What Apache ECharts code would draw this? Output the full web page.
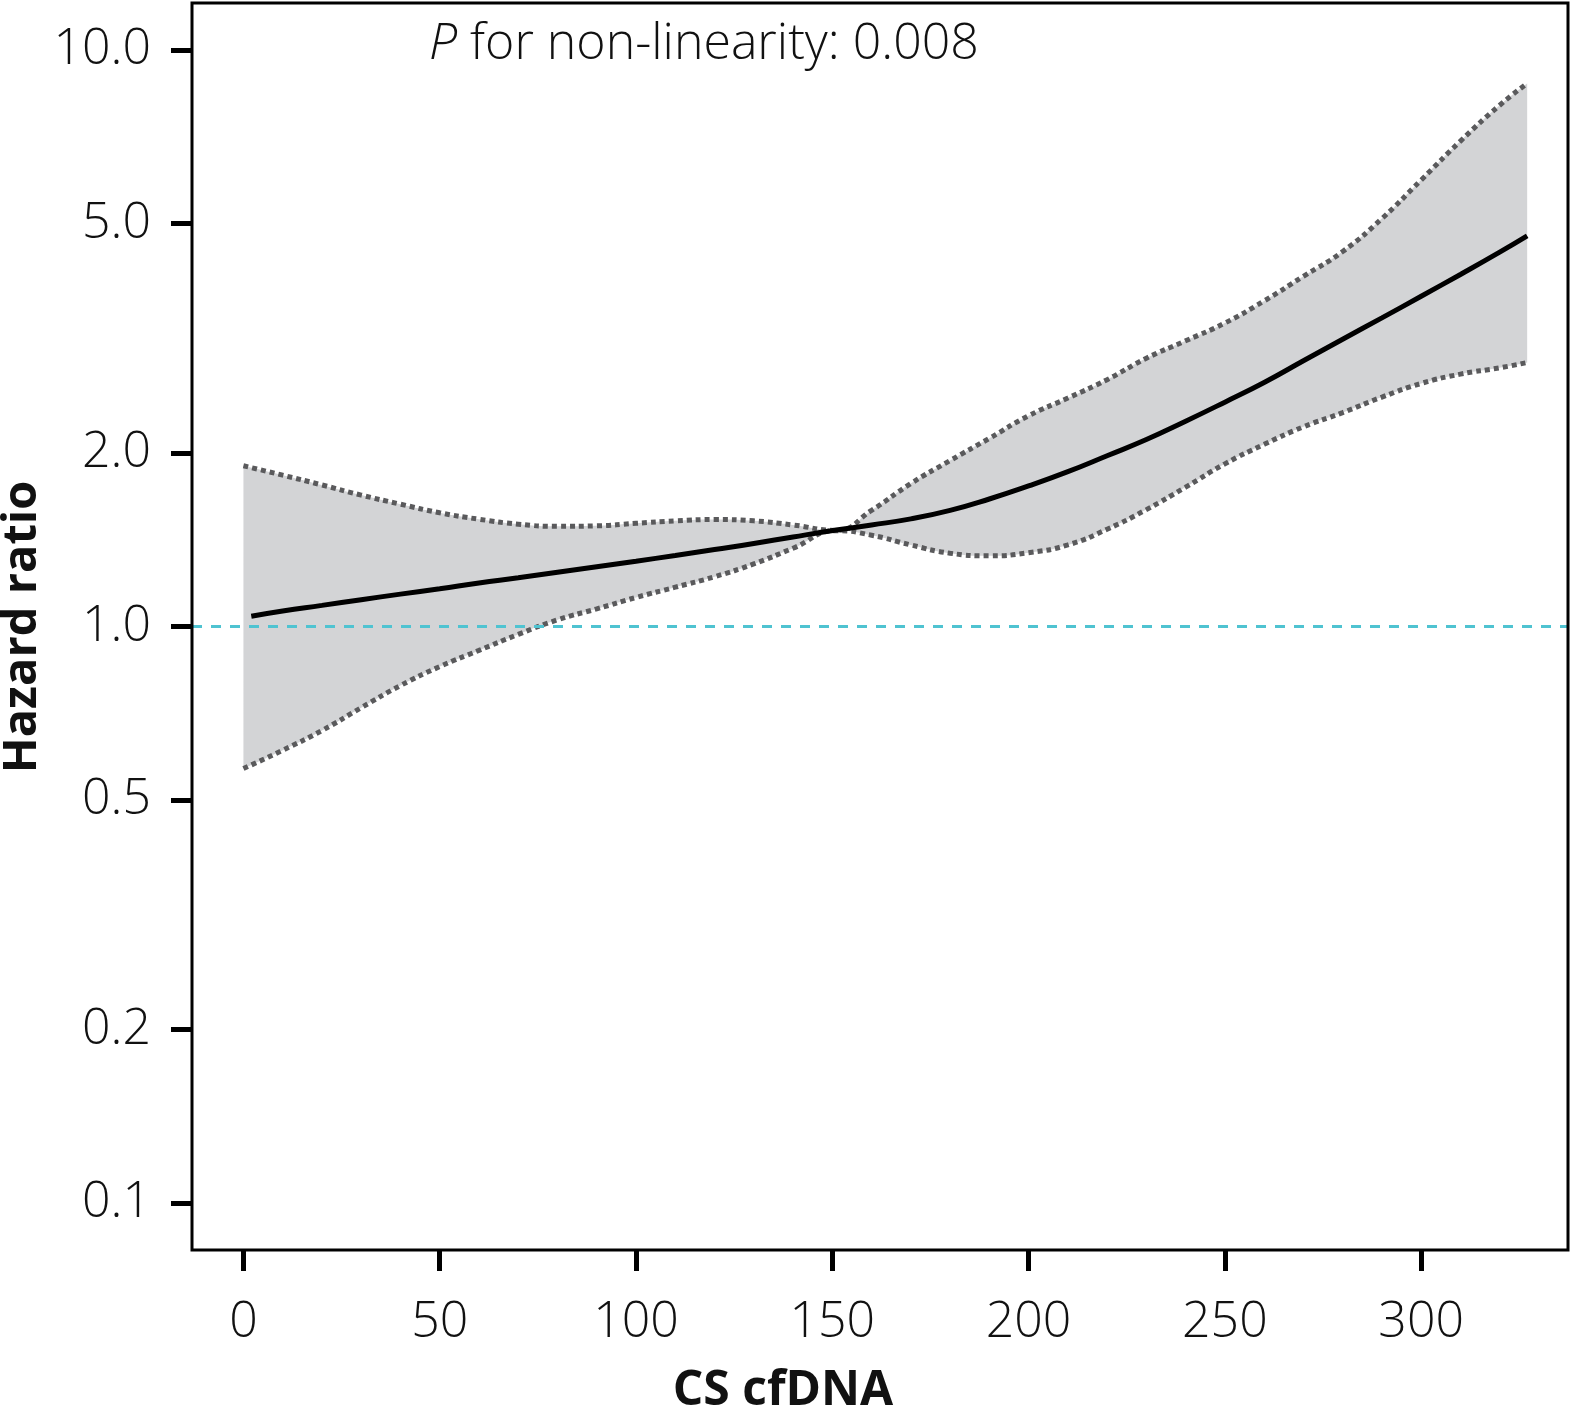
<!DOCTYPE html>
<html>
<head>
<meta charset="utf-8">
<script src="https://cdn.jsdelivr.net/npm/echarts@6/dist/echarts.min.js"></script>
<style>
html,body{margin:0;padding:0;background:#fff;}
#chart{width:1573px;height:1407px;}
</style>
</head>
<body>
<div id="chart"></div>
<script>
// CI band x positions (CS cfDNA)
const bandX = [0, 10, 20, 30, 40, 50, 60, 70, 80, 90, 100, 110, 120, 130, 140, 151, 160, 170, 180, 190, 200, 210, 220, 230, 240, 250, 260, 270, 280, 290, 300, 310, 320, 327];
// Upper 95% CI (hazard ratio)
const hrUpper = [1.90, 1.83, 1.76, 1.69, 1.63, 1.575, 1.535, 1.505, 1.492, 1.495, 1.51, 1.525, 1.533, 1.525, 1.50, 1.468, 1.59, 1.77, 1.94, 2.12, 2.32, 2.49, 2.68, 2.92, 3.13, 3.36, 3.67, 4.05, 4.47, 5.10, 5.95, 6.95, 8.02, 8.75];
// Lower 95% CI (hazard ratio)
const hrLower = [0.567, 0.61, 0.66, 0.723, 0.79, 0.852, 0.909, 0.969, 1.027, 1.073, 1.123, 1.17, 1.22, 1.284, 1.367, 1.466, 1.44, 1.385, 1.34, 1.326, 1.343, 1.385, 1.475, 1.595, 1.745, 1.915, 2.07, 2.22, 2.35, 2.50, 2.64, 2.74, 2.81, 2.87];
// Point estimate
const fitX = [2, 10, 20, 30, 40, 50, 60, 70, 80, 90, 100, 110, 120, 130, 140, 151, 160, 170, 180, 190, 200, 210, 220, 230, 240, 250, 260, 270, 280, 290, 300, 310, 320, 327];
const hrFit = [1.042, 1.064, 1.088, 1.113, 1.138, 1.163, 1.19, 1.215, 1.242, 1.27, 1.298, 1.328, 1.36, 1.393, 1.43, 1.47, 1.50, 1.537, 1.59, 1.664, 1.753, 1.856, 1.978, 2.11, 2.27, 2.45, 2.65, 2.89, 3.15, 3.43, 3.74, 4.08, 4.46, 4.76];
// Axis ticks
const xTicks = [0, 50, 100, 150, 200, 250, 300];
const yTicks = [0.1, 0.2, 0.5, 1.0, 2.0, 5.0, 10.0];
const refHR = 1.0;

const L = Math.log10;
const lowerData = bandX.map((x, i) => [x, L(hrLower[i])]);
const upperData = bandX.map((x, i) => [x, L(hrUpper[i])]);
const fitData = fitX.map((x, i) => [x, L(hrFit[i])]);
// band rows as [yValue, x] so the stack is taken on the y dimension
const bandBase = bandX.map((x, i) => [L(hrLower[i]), x]);
const bandSpan = bandX.map((x, i) => [L(hrUpper[i]) - L(hrLower[i]), x]);

const FONT = '"Open Sans", "Noto Sans", sans-serif';
const chart = echarts.init(document.getElementById('chart'));
chart.setOption({
  animation: false,
  backgroundColor: '#fff',
  title: {
    text: '{i|P} for non-linearity: 0.008',
    left: 424, top: 15,
    textStyle: {
      fontSize: 50, fontWeight: 300, fontFamily: FONT, color: '#111',
      rich: {
        i: {fontStyle: 'italic', fontSize: 50, fontWeight: 300, fontFamily: FONT, color: '#111'}
      }
    }
  },
  grid: {left: 192, right: 5, top: 3, bottom: 157, show: true, z: 10, borderColor: '#000', borderWidth: 3, containLabel: false},
  xAxis: {
    type: 'value', min: -13.1, max: 337.4,
    axisLine: {show: false, onZero: false},
    splitLine: {show: false},
    axisTick: {show: true, customValues: xTicks, length: 21, lineStyle: {color: '#000', width: 5}},
    axisLabel: {customValues: xTicks, margin: 48, fontSize: 50, fontFamily: FONT, fontWeight: 300, color: '#111'}
  },
  yAxis: {
    type: 'value', min: -1.0815, max: 1.0815,
    axisLine: {show: false, onZero: false},
    splitLine: {show: false},
    axisTick: {show: true, customValues: yTicks.map(L), length: 21, lineStyle: {color: '#000', width: 5}},
    axisLabel: {customValues: yTicks.map(L), margin: 41, fontSize: 50, fontFamily: FONT, fontWeight: 300, color: '#111',
      formatter: v => Math.pow(10, v).toFixed(1)}
  },
  graphic: [
    {type: 'text', x: 783, y: 1391, style: {text: 'CS cfDNA', fontSize: 48, fontWeight: 'bold', fontFamily: FONT, fill: '#111', align: 'center', verticalAlign: 'middle'}},
    {type: 'text', x: 23, y: 627, rotation: Math.PI / 2, style: {text: 'Hazard ratio', fontSize: 47, fontWeight: 'bold', fontFamily: FONT, fill: '#111', align: 'center', verticalAlign: 'middle'}}
  ],
  series: [
    {type: 'line', data: bandBase, encode: {x: 1, y: 0}, stack: 'band', stackStrategy: 'all', smooth: true, symbol: 'none', lineStyle: {width: 0, opacity: 0}, silent: true, z: 1},
    {type: 'line', data: bandSpan, encode: {x: 1, y: 0}, stack: 'band', stackStrategy: 'all', smooth: true, symbol: 'none', lineStyle: {width: 0, opacity: 0}, areaStyle: {color: '#d3d4d6', opacity: 1}, silent: true, z: 1},
    {type: 'line', data: upperData, smooth: true, symbol: 'none', lineStyle: {color: '#5a5a5c', width: 5, type: [5, 4]}, z: 3},
    {type: 'line', data: lowerData, smooth: true, symbol: 'none', lineStyle: {color: '#5a5a5c', width: 5, type: [5, 4]}, z: 3},
    {type: 'line', data: fitData, smooth: true, symbol: 'none', lineStyle: {color: '#000', width: 5}, z: 4,
      markLine: {silent: true, symbol: 'none', label: {show: false}, lineStyle: {color: '#4fc3d1', width: 3, type: [10, 9]}, data: [{yAxis: L(refHR)}]}}
  ]
});
</script>
</body>
</html>
